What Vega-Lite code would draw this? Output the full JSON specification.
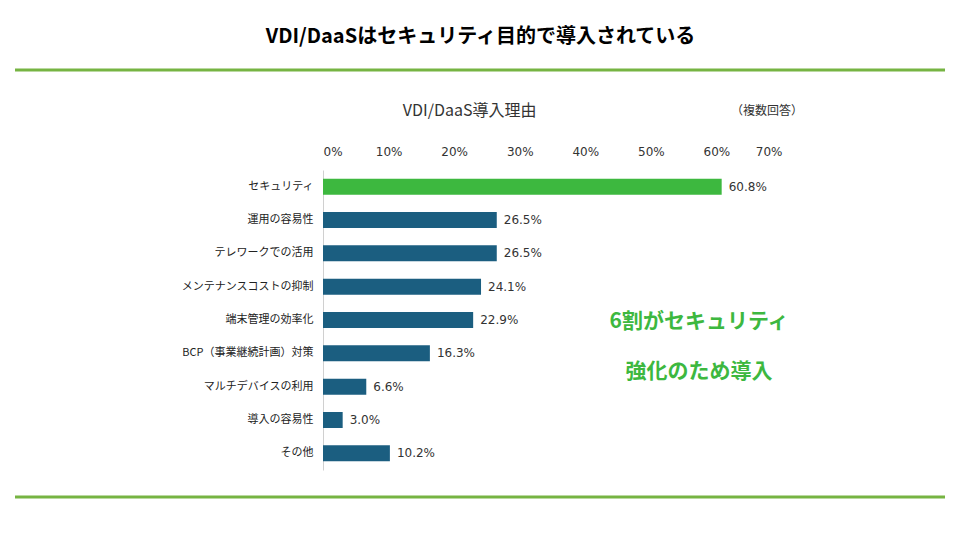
{
  "$schema": "https://vega.github.io/schema/vega-lite/v6.json",
  "width": 459,
  "height": 300,
  "autosize": "none",
  "padding": {"left": 323, "top": 170, "right": 178, "bottom": 70},
  "background": "white",
  "config": {"view": {"stroke": null}, "font": "Noto Sans CJK JP"},
  "datasets": {
    "texts": [
      {"x": 0.2403, "y": -133, "text": "VDI/DaaSはセキュリティ目的で導入されている", "kind": "main"},
      {"x": 0.2236, "y": -59, "text": "VDI/DaaS導入理由", "kind": "sub"},
      {"x": 0.6773, "y": -59, "text": "（複数回答）", "kind": "note"},
      {"x": 0.5735, "y": 152, "text": "6割がセキュリティ", "kind": "ann"},
      {"x": 0.5735, "y": 202, "text": "強化のため導入", "kind": "ann"}
    ]
  },
  "layer": [
    {
      "data": {"values": [
        {"reason": "セキュリティ", "value": 0.608, "top": true},
        {"reason": "運用の容易性", "value": 0.265, "top": false},
        {"reason": "テレワークでの活用", "value": 0.265, "top": false},
        {"reason": "メンテナンスコストの抑制", "value": 0.241, "top": false},
        {"reason": "端末管理の効率化", "value": 0.229, "top": false},
        {"reason": "BCP（事業継続計画）対策", "value": 0.163, "top": false},
        {"reason": "マルチデバイスの利用", "value": 0.066, "top": false},
        {"reason": "導入の容易性", "value": 0.03, "top": false},
        {"reason": "その他", "value": 0.102, "top": false}
      ]},
      "encoding": {
        "y": {"field": "reason", "type": "nominal", "sort": null, "title": null,
          "scale": {"paddingInner": 0.52, "paddingOuter": 0.26},
          "axis": {"ticks": false, "labelFontSize": 11, "labelColor": "#222", "labelPadding": 10, "domainColor": "#d0d0d0", "labelFont": "Noto Sans CJK JP"}},
        "x": {"field": "value", "type": "quantitative", "title": null,
          "scale": {"domain": [0, 0.7]},
          "axis": {"orient": "top", "format": ".0%", "values": [0, 0.1, 0.2, 0.3, 0.4, 0.5, 0.6, 0.7], "grid": false, "ticks": false, "domain": false, "labelFontSize": 12, "labelColor": "#333", "labelPadding": 12, "labelFont": "DejaVu Sans"}}
      },
      "layer": [
        {"mark": {"type": "bar"},
         "encoding": {"color": {"condition": {"test": "datum.top", "value": "#3db83f"}, "value": "#1b5e80"}}},
        {"mark": {"type": "text", "align": "left", "dx": 7, "fontSize": 12, "color": "#333", "font": "DejaVu Sans"},
         "encoding": {"text": {"field": "value", "type": "quantitative", "format": ".1%"}}}
      ]
    },
    {
      "data": {"values": [
        {"x": -0.4697, "x2": 0.9486, "y": -100},
        {"x": -0.4697, "x2": 0.9486, "y": 327}
      ]},
      "mark": {"type": "rule", "strokeWidth": 3, "color": "#76b442"},
      "encoding": {
        "x": {"field": "x", "type": "quantitative"},
        "x2": {"field": "x2"},
        "y": {"field": "y", "type": "quantitative", "scale": {"domain": [0, 300], "reverse": true}, "axis": null}
      }
    },
    {
      "data": {"name": "texts"},
      "encoding": {
        "x": {"field": "x", "type": "quantitative"},
        "y": {"field": "y", "type": "quantitative", "scale": {"domain": [0, 300], "reverse": true}, "axis": null},
        "text": {"field": "text"}
      },
      "layer": [
        {"transform": [{"filter": "datum.kind == 'main'"}],
         "mark": {"type": "text", "fontSize": 20, "fontWeight": "bold", "color": "#000"}},
        {"transform": [{"filter": "datum.kind == 'sub'"}],
         "mark": {"type": "text", "fontSize": 16, "color": "#333"}},
        {"transform": [{"filter": "datum.kind == 'note'"}],
         "mark": {"type": "text", "fontSize": 12, "color": "#333"}},
        {"transform": [{"filter": "datum.kind == 'ann'"}],
         "mark": {"type": "text", "fontSize": 21, "fontWeight": "bold", "color": "#3db83f"}}
      ]
    }
  ],
  "resolve": {"scale": {"y": "independent"}}
}
